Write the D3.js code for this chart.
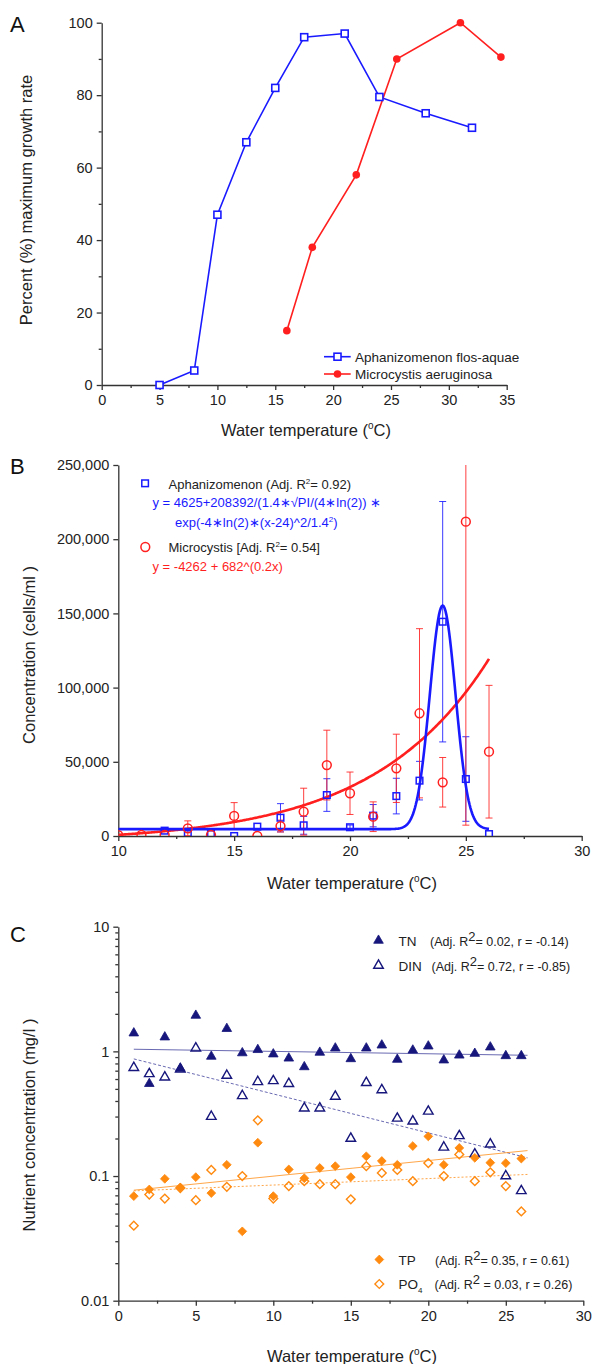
<!DOCTYPE html>
<html>
<head>
<meta charset="utf-8">
<script src="https://cdn.jsdelivr.net/npm/d3@7"></script>
<style>
  body { margin: 0; background: #fff; }
  svg text { font-family: "Liberation Sans", Arial, sans-serif; }
</style>
</head>
<body>
<div id="container"></div>
<script>
// ---- panel A: growth rate vs temperature
const aphTemp = [5, 8, 10, 12.5, 15, 17.5, 21, 24, 28, 32];
const aphRate = [0, 4, 47, 67, 82, 96, 97, 79.5, 75, 71];
const micTemp = [16, 18.2, 22, 25.5, 31, 34.5];
const micRate = [15, 38, 58, 90, 100, 90.5];

// ---- panel B: field concentrations (mean, sd)
const bAphX = [12, 13, 14, 15, 16, 17, 18, 19, 20, 21, 22, 23, 24, 25, 26];
const bAphY = [3600, 1300, 1300, 0, 6300, 12300, 7200, 27600, 5900, 13700, 26900, 37300, 144400, 38400, 1300];
const bAphErr = [0, 0, 0, 0, 0, 9500, 6000, 11000, 1500, 7500, 12000, 13000, 81000, 28500, 0];
const bMicX = [10, 11, 12, 13, 14, 15, 16, 17, 18, 19, 20, 21, 22, 23, 24, 25, 26];
const bMicY = [500, 800, 800, 5200, 800, 13500, 0, 6700, 16400, 47800, 28800, 13000, 45600, 82700, 36200, 211800, 56800];
const bMicErr = [0, 0, 0, 5000, 0, 9000, 0, 4000, 15800, 23500, 14300, 10000, 23000, 57000, 16700, 204500, 44700];
// fitted curves (parameters from the legend)
const gaussFit = { y0: 4625, A: 208392, xc: 24, w: 1.3 };
const expFit = { a: -4262, b: 682, k: 0.2 };
const fitRange = [10, 26];

// ---- panel C: nutrients
const cX = [1, 2, 3, 4, 5, 6, 7, 8, 9, 10, 11, 12, 13, 14, 15, 16, 17, 18, 19, 20, 21, 22, 23, 24, 25, 26];
const tnVal = [1.4, 0.55, 1.3, 0.73, 1.94, 0.91, 1.52, 0.97, 1.03, 0.95, 0.88, 0.75, 0.98, 1.06, 0.87, 1.06, 1.12, 0.86, 1.02, 1.1, 0.85, 0.93, 0.96, 1.08, 0.92, 0.92];
const dinVal = [0.74, 0.66, 0.62, 0.72, 1.06, 0.3, 0.64, 0.44, 0.57, 0.58, 0.55, 0.35, 0.35, 0.435, 0.2, 0.56, 0.49, 0.29, 0.275, 0.33, 0.17, 0.21, 0.15, 0.18, 0.1, 0.076];
const tpVal = [0.069, 0.078, 0.095, 0.081, 0.098, 0.073, 0.123, 0.036, 0.185, 0.069, 0.113, 0.096, 0.116, 0.12, 0.098, 0.144, 0.132, 0.123, 0.174, 0.208, 0.123, 0.168, 0.14, 0.128, 0.127, 0.138];
const po4Val = [0.04, 0.071, 0.066, 0.08, 0.064, 0.112, 0.082, 0.1, 0.28, 0.066, 0.083, 0.091, 0.086, 0.086, 0.065, 0.12, 0.106, 0.112, 0.091, 0.127, 0.1, 0.149, 0.091, 0.107, 0.083, 0.052];
const trendX = [1, 26.4];
const tnTrend = [1.04, 0.93];
const dinTrend = [0.87, 0.14];
const tpTrend = [0.077, 0.16];
const po4Trend = [0.076, 0.103];

const BLUE = "#1a1aff", RED = "#ff1f1f", NAVY = "#16167c", ORANGE = "#ff8a10";
const AXIS = "#333", TXT = "#222";

const svg = d3.select("#container").append("svg")
  .attr("width", 594).attr("height", 1364);

function styleAxis(g, fs) {
  g.attr("font-size", fs).attr("font-family", "Liberation Sans, Arial, sans-serif");
  g.selectAll("path, line").attr("stroke", AXIS).attr("stroke-width", 1.3);
  g.selectAll("text").attr("fill", TXT);
}
function minorAxis(axis, vals, size) {
  return axis.tickValues(vals).tickSize(size).tickFormat("");
}
function tempTitle(x, y) {
  const t = svg.append("text").attr("x", x).attr("y", y).attr("text-anchor", "middle")
    .attr("font-size", 16.5).attr("fill", TXT);
  t.append("tspan").text("Water temperature (");
  t.append("tspan").attr("font-size", 10).attr("dy", -7).text("o");
  t.append("tspan").attr("dy", 7).text("C)");
}
function yTitle(x, y, s) {
  svg.append("text").attr("transform", `translate(${x},${y}) rotate(-90)`)
    .attr("text-anchor", "middle").attr("font-size", 16.5).attr("fill", TXT).text(s);
}
function panelLabel(s, x, y) {
  svg.append("text").attr("x", x).attr("y", y).attr("font-size", 22).attr("fill", "#111").text(s);
}

// ================= Panel A =================
const xA = d3.scaleLinear().domain([0, 35]).range([101.7, 506.7]);
const yA = d3.scaleLinear().domain([0, 100]).range([385, 22.7]);

svg.append("g").attr("transform", "translate(0,385)")
  .call(d3.axisBottom(xA).tickValues(d3.range(0, 36, 5)).tickSize(5).tickSizeOuter(0).tickPadding(5))
  .call(g => styleAxis(g, 14.5));
svg.append("g").attr("transform", "translate(0,385)")
  .call(minorAxis(d3.axisBottom(xA), d3.range(2.5, 35, 5), 3))
  .call(g => { g.select(".domain").remove(); styleAxis(g, 10); });
svg.append("g").attr("transform", "translate(101.7,0)")
  .call(d3.axisLeft(yA).tickValues(d3.range(0, 101, 20)).tickSize(5).tickSizeOuter(0).tickPadding(4))
  .call(g => styleAxis(g, 14.5));
svg.append("g").attr("transform", "translate(101.7,0)")
  .call(minorAxis(d3.axisLeft(yA), d3.range(10, 100, 20), 3))
  .call(g => { g.select(".domain").remove(); styleAxis(g, 10); });

const lineA = d3.line().x(d => xA(d[0])).y(d => yA(d[1]));
const aphPts = aphTemp.map((t, i) => [t, aphRate[i]]);
const micPts = micTemp.map((t, i) => [t, micRate[i]]);
svg.append("path").attr("d", lineA(aphPts)).attr("fill", "none").attr("stroke", BLUE).attr("stroke-width", 1.6);
svg.append("path").attr("d", lineA(micPts)).attr("fill", "none").attr("stroke", RED).attr("stroke-width", 1.6);
svg.selectAll(".aSq").data(aphPts).join("rect").attr("class", "aSq")
  .attr("x", d => xA(d[0]) - 3.5).attr("y", d => yA(d[1]) - 3.5)
  .attr("width", 7).attr("height", 7).attr("fill", "#fff").attr("stroke", BLUE).attr("stroke-width", 1.6);
svg.selectAll(".aCi").data(micPts).join("circle").attr("class", "aCi")
  .attr("cx", d => xA(d[0])).attr("cy", d => yA(d[1])).attr("r", 3.8).attr("fill", RED);

// legend A
const legA = svg.append("g");
[[BLUE, "Aphanizomenon flos-aquae", 356.7, "sq"], [RED, "Microcystis aeruginosa", 374, "ci"]].forEach(([c, s, y, m]) => {
  legA.append("line").attr("x1", 324).attr("x2", 350.7).attr("y1", y).attr("y2", y).attr("stroke", c).attr("stroke-width", 1.6);
  if (m === "sq") legA.append("rect").attr("x", 334).attr("y", y - 3.5).attr("width", 7).attr("height", 7)
    .attr("fill", "#fff").attr("stroke", c).attr("stroke-width", 1.6);
  else legA.append("circle").attr("cx", 337.5).attr("cy", y).attr("r", 3.8).attr("fill", c);
  legA.append("text").attr("x", 355).attr("y", y + 4.8).attr("font-size", 13.5).attr("fill", TXT).text(s);
});

tempTitle(306, 436);
yTitle(32, 200, "Percent (%) maximum growth rate");
panelLabel("A", 10, 32);

// ================= Panel B =================
const xB = d3.scaleLinear().domain([10, 30]).range([118.3, 581.7]);
const yB = d3.scaleLinear().domain([0, 250000]).range([836, 465]);

svg.append("g").attr("transform", "translate(0,836)")
  .call(d3.axisBottom(xB).tickValues(d3.range(10, 31, 5)).tickSize(5).tickSizeOuter(0).tickPadding(5))
  .call(g => styleAxis(g, 14.5));
svg.append("g").attr("transform", "translate(0,836)")
  .call(minorAxis(d3.axisBottom(xB), d3.range(12.5, 30, 5), 3))
  .call(g => { g.select(".domain").remove(); styleAxis(g, 10); });
svg.append("g").attr("transform", "translate(118.3,0)")
  .call(d3.axisLeft(yB).tickValues(d3.range(0, 250001, 50000)).tickSize(5).tickSizeOuter(0)
    .tickPadding(4).tickFormat(d3.format(",")))
  .call(g => styleAxis(g, 14.5));

const clipB = svg.append("clipPath").attr("id", "clipB").append("rect")
  .attr("x", 118.3).attr("y", 465).attr("width", 463.4).attr("height", 371);
const plotB = svg.append("g").attr("clip-path", "url(#clipB)");

const fitXs = d3.range(fitRange[0], fitRange[1] + 0.001, 0.04);
const gauss = x => gaussFit.y0 + gaussFit.A / (gaussFit.w * Math.sqrt(Math.PI / (4 * Math.LN2))) *
  Math.exp(-4 * Math.LN2 * (x - gaussFit.xc) ** 2 / gaussFit.w ** 2);
const expo = x => expFit.a + expFit.b * Math.exp(expFit.k * x);
const lineB = d3.line().x(d => xB(d[0])).y(d => yB(d[1]));

// error bars
function errBars(xs, ys, es, color) {
  xs.forEach((x, i) => {
    if (!es[i]) return;
    const lo = Math.max(ys[i] - es[i], 0), hi = ys[i] + es[i], cx = xB(x);
    plotB.append("line").attr("x1", cx).attr("x2", cx).attr("y1", yB(lo)).attr("y2", yB(hi))
      .attr("stroke", color).attr("stroke-width", 1).attr("opacity", 0.85);
    [lo, hi].forEach(v => plotB.append("line").attr("x1", cx - 3.5).attr("x2", cx + 3.5)
      .attr("y1", yB(v)).attr("y2", yB(v)).attr("stroke", color).attr("stroke-width", 1).attr("opacity", 0.85));
  });
}
errBars(bAphX, bAphY, bAphErr, BLUE);
errBars(bMicX, bMicY, bMicErr, RED);

plotB.append("path").attr("d", lineB(fitXs.map(x => [x, expo(x)]))).attr("fill", "none")
  .attr("stroke", RED).attr("stroke-width", 2.6);
plotB.append("path").attr("d", lineB(fitXs.map(x => [x, gauss(x)]))).attr("fill", "none")
  .attr("stroke", BLUE).attr("stroke-width", 2.6);

plotB.selectAll(".bSq").data(bAphX).join("rect").attr("class", "bSq")
  .attr("x", d => xB(d) - 3.3).attr("y", (d, i) => yB(bAphY[i]) - 3.3)
  .attr("width", 6.6).attr("height", 6.6).attr("fill", "none").attr("stroke", BLUE).attr("stroke-width", 1.5);
plotB.selectAll(".bCi").data(bMicX).join("circle").attr("class", "bCi")
  .attr("cx", d => xB(d)).attr("cy", (d, i) => yB(bMicY[i])).attr("r", 4.4)
  .attr("fill", "none").attr("stroke", RED).attr("stroke-width", 1.5);

// legend B
svg.append("rect").attr("x", 141.8).attr("y", 480).attr("width", 6.6).attr("height", 6.6)
  .attr("fill", "none").attr("stroke", BLUE).attr("stroke-width", 1.5);
svg.append("circle").attr("cx", 145.3).attr("cy", 547).attr("r", 4.4)
  .attr("fill", "none").attr("stroke", RED).attr("stroke-width", 1.5);
function r2Text(x, y, pre, val, post, color) {
  const t = svg.append("text").attr("x", x).attr("y", y).attr("font-size", 13).attr("fill", color);
  t.append("tspan").text(pre);
  t.append("tspan").attr("font-size", 8).attr("dy", -5).text("2");
  t.append("tspan").attr("dy", 5).text(val + post);
  return t;
}
r2Text(168.5, 489, "Aphanizomenon (Adj. R", "= 0.92", ")", TXT);
svg.append("text").attr("x", 152.5).attr("y", 507).attr("font-size", 13).attr("fill", BLUE)
  .text("y = 4625+208392/(1.4\u2217\u221API/(4\u2217ln(2)) \u2217");
const eq2 = svg.append("text").attr("x", 175).attr("y", 527).attr("font-size", 13).attr("fill", BLUE);
eq2.append("tspan").text("exp(-4\u2217ln(2)\u2217(x-24)^2/1.4");
eq2.append("tspan").attr("font-size", 8).attr("dy", -5).text("2");
eq2.append("tspan").attr("dy", 5).text(")");
r2Text(168.5, 552, "Microcystis [Adj. R", "= 0.54", "]", TXT);
svg.append("text").attr("x", 152.5).attr("y", 571).attr("font-size", 13).attr("fill", RED)
  .text("y = -4262 + 682^(0.2x)");

tempTitle(352, 889);
yTitle(35, 655, "Concentration (cells/ml )");
panelLabel("B", 10, 474);

// ================= Panel C =================
const xC = d3.scaleLinear().domain([0, 30]).range([118.3, 583.3]);
const yC = d3.scaleLog().domain([0.01, 10]).range([1300.7, 926.7]);

svg.append("g").attr("transform", "translate(0,1300.7)")
  .call(d3.axisBottom(xC).tickValues(d3.range(0, 31, 5)).tickSize(5).tickSizeOuter(0).tickPadding(5))
  .call(g => styleAxis(g, 14.5));
svg.append("g").attr("transform", "translate(0,1300.7)")
  .call(minorAxis(d3.axisBottom(xC), d3.range(2.5, 30, 5), 3))
  .call(g => { g.select(".domain").remove(); styleAxis(g, 10); });
svg.append("g").attr("transform", "translate(118.3,0)")
  .call(d3.axisLeft(yC).tickValues([0.01, 0.1, 1, 10]).tickSize(5).tickSizeOuter(0)
    .tickPadding(4).tickFormat(d => String(d)))
  .call(g => styleAxis(g, 14.5));
const minorLog = [];
[0.01, 0.1, 1].forEach(dec => d3.range(2, 10).forEach(m => minorLog.push(+(dec * m).toPrecision(3))));
svg.append("g").attr("transform", "translate(118.3,0)")
  .call(minorAxis(d3.axisLeft(yC), minorLog, 3))
  .call(g => { g.select(".domain").remove(); styleAxis(g, 10); });

const lineC = d3.line().x(d => xC(d[0])).y(d => yC(d[1]));
const trend = (vals, color, dash) => svg.append("path")
  .attr("d", lineC(trendX.map((x, i) => [x, vals[i]]))).attr("fill", "none")
  .attr("stroke", color).attr("stroke-width", 0.9).attr("stroke-dasharray", dash).attr("opacity", 0.85);
trend(tnTrend, "#3a3a9a", null);
trend(dinTrend, "#3a3a9a", "3,2");
trend(tpTrend, ORANGE, null);
trend(po4Trend, ORANGE, "2,2");

const tri = d3.symbol().type(d3.symbolTriangle).size(40);
function triangles(vals, filled) {
  svg.append("g").selectAll("path").data(cX).join("path")
    .attr("d", tri).attr("transform", (d, i) => `translate(${xC(d)},${yC(vals[i])})`)
    .attr("fill", filled ? NAVY : "#fff").attr("fill-opacity", filled ? 1 : 0)
    .attr("stroke", NAVY).attr("stroke-width", filled ? 0.8 : 1.4);
}
function diamonds(vals, filled) {
  svg.append("g").selectAll("rect").data(cX).join("rect")
    .attr("x", -3.1).attr("y", -3.1).attr("width", 6.2).attr("height", 6.2)
    .attr("transform", (d, i) => `translate(${xC(d)},${yC(vals[i])}) rotate(45)`)
    .attr("fill", filled ? ORANGE : "none")
    .attr("stroke", ORANGE).attr("stroke-width", filled ? 0.8 : 1.4);
}
triangles(dinVal, false);
triangles(tnVal, true);
diamonds(po4Val, false);
diamonds(tpVal, true);

// legend C
function legC(y, label, x2, r2, rest, marker, filled, color) {
  if (marker === "tri") {
    svg.append("path").attr("d", tri).attr("transform", `translate(378.5,${y})`)
      .attr("fill", filled ? color : "none").attr("stroke", color).attr("stroke-width", filled ? 0.8 : 1.4);
  } else {
    svg.append("rect").attr("x", -3.1).attr("y", -3.1).attr("width", 6.2).attr("height", 6.2)
      .attr("transform", `translate(379.3,${y}) rotate(45)`)
      .attr("fill", filled ? color : "none").attr("stroke", color).attr("stroke-width", filled ? 0.8 : 1.4);
  }
  const t = svg.append("text").attr("x", 398.5).attr("y", y + 5).attr("font-size", 13.5).attr("fill", TXT);
  t.append("tspan").text(label[0]);
  if (label[1]) t.append("tspan").attr("font-size", 8).attr("dy", 4).text(label[1]);
  const t2 = svg.append("text").attr("x", x2).attr("y", y + 5).attr("font-size", 12.5).attr("fill", TXT);
  t2.append("tspan").text("(Adj. R");
  t2.append("tspan").attr("font-size", 13).attr("dy", -5).text("2");
  t2.append("tspan").attr("dy", 5).text(r2 + rest);
}
legC(940.5, ["TN"], 430, "= 0.02", ", r = -0.14)", "tri", true, NAVY);
legC(965.5, ["DIN"], 431.5, "= 0.72", ", r = -0.85)", "tri", false, NAVY);
legC(1259.5, ["TP"], 435, "= 0.35", ", r = 0.61)", "dia", true, ORANGE);
legC(1284, ["PO", "4"], 434.5, " = 0.03", ", r = 0.26)", "dia", false, ORANGE);

tempTitle(352, 1362);
yTitle(35, 1125, "Nutrient concentration (mg/l )");
panelLabel("C", 10, 942);
</script>
</body>
</html>
